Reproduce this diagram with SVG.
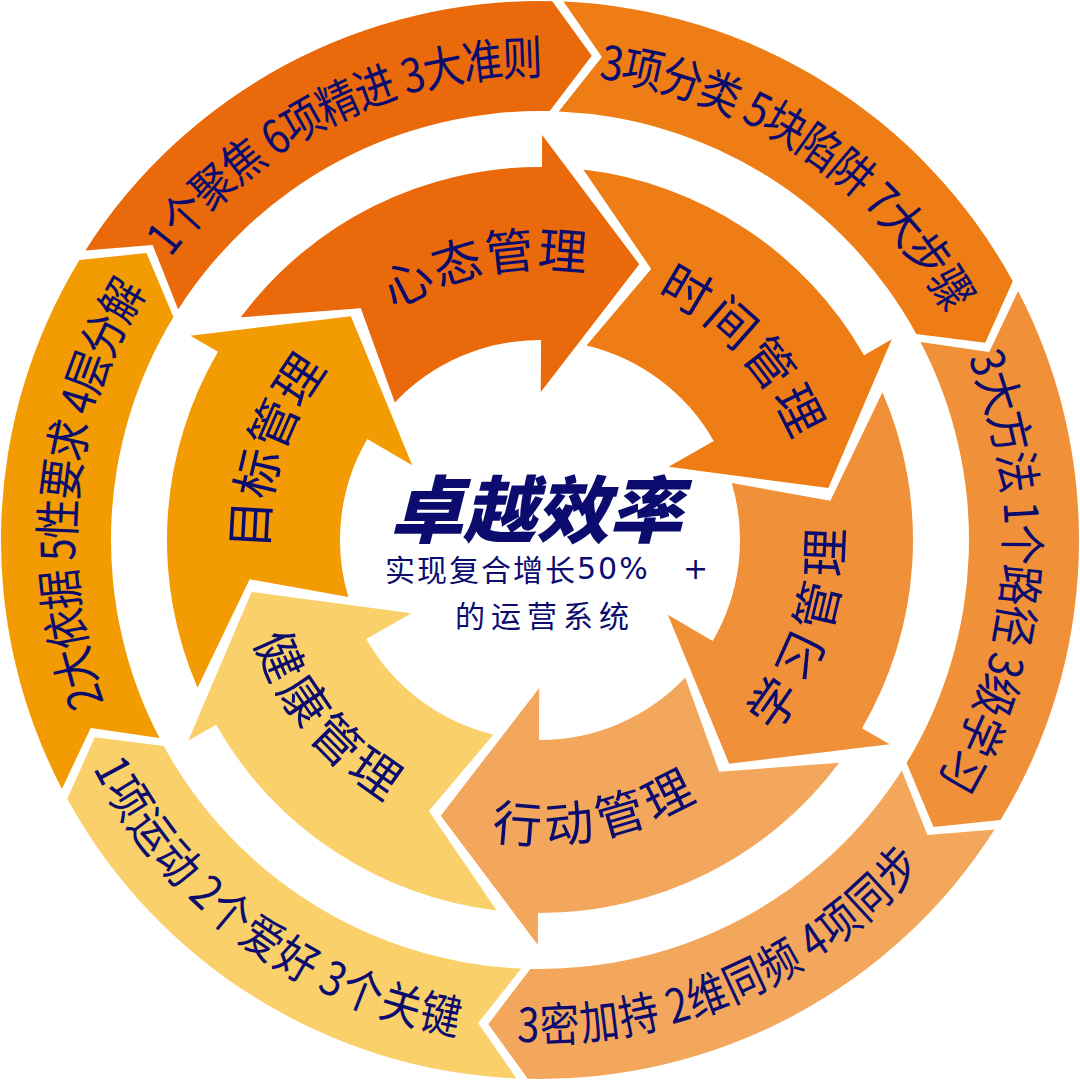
<svg xmlns="http://www.w3.org/2000/svg" xmlns:xlink="http://www.w3.org/1999/xlink" width="1080" height="1080" viewBox="0 0 1080 1080">
<style>
.lbl{font-family:"Noto Sans CJK SC","Noto Sans",sans-serif;fill:#0B0C6E;dominant-baseline:central}
.out{font-size:47px}
.inn{font-size:49px}
.c1{fill:#EA6A0B}.c2{fill:#EF7D16}.c3{fill:#F0913A}.c4{fill:#F3A75D}.c5{fill:#F9D06A}.c6{fill:#F29B02}
</style>
<defs>
<path id="seg" d="M551.29,1.12 A539,539 0 0 1 1006.79,270.5 L980.65,332.65 L911.53,325.5 A429,429 0 0 0 548.98,111.09 L590.91,55.67 Z"/>
<path id="arr" d="M581.32,169.29 A373,373 0 0 1 863.03,353.5 L890.74,337.5 L828.09,486.6 L668.17,466 L713.21,440 A200,200 0 0 0 585.5,345.24 L649.76,268.34 Z"/>
<path id="ocw" d="M227.6,167.7 A486,486 0 0 1 852.4,167.7"/>
<path id="occw" d="M230.8,908.5 A481,481 0 0 0 849.2,908.5"/>
<path id="icw" d="M332.1,332.1 A294,294 0 0 1 747.9,332.1"/>
<path id="iccw" d="M341.3,738.7 A281,281 0 0 0 738.7,738.7"/>
</defs>
<rect width="1080" height="1080" fill="#FFFFFF"/>
<g id="outer-ring">
<g id="seg-focus"><use href="#seg" class="c1" transform="rotate(301.3 540 540)"/>
<text class="lbl out" transform="rotate(-26.15 540 540)"><textPath href="#ocw" startOffset="50%" text-anchor="middle" textLength="448" lengthAdjust="spacingAndGlyphs">1个聚焦 6项精进 3大准则</textPath></text></g>
<g id="seg-classify"><use href="#seg" class="c2" transform="rotate(1.3 540 540)"/>
<text class="lbl out" transform="rotate(34.1 540 540)"><textPath href="#ocw" startOffset="50%" text-anchor="middle" textLength="455" lengthAdjust="spacingAndGlyphs">3项分类 5块陷阱 7大步骤</textPath></text></g>
<g id="seg-method"><use href="#seg" class="c3" transform="rotate(61.3 540 540)"/>
<text class="lbl out" transform="rotate(94.05 540 540)"><textPath href="#ocw" startOffset="50%" text-anchor="middle" textLength="458" lengthAdjust="spacingAndGlyphs">3大方法 1个路径 3级学习</textPath></text></g>
<g id="seg-sync"><use href="#seg" class="c4" transform="rotate(121.3 540 540)"/>
<text class="lbl out" transform="rotate(-23.55 540 540)"><textPath href="#occw" startOffset="50%" text-anchor="middle" textLength="440" lengthAdjust="spacingAndGlyphs">3密加持 2维同频 4项同步</textPath></text></g>
<g id="seg-sport"><use href="#seg" class="c5" transform="rotate(181.3 540 540)"/>
<text class="lbl out" transform="rotate(36.2 540 540)"><textPath href="#occw" startOffset="50%" text-anchor="middle" textLength="450" lengthAdjust="spacingAndGlyphs">1项运动 2个爱好 3个关键</textPath></text></g>
<g id="seg-basis"><use href="#seg" class="c6" transform="rotate(241.3 540 540)"/>
<text class="lbl out" transform="rotate(-84.05 540 540)"><textPath href="#ocw" startOffset="50%" text-anchor="middle" textLength="446" lengthAdjust="spacingAndGlyphs">2大依据 5性要求 4层分解</textPath></text></g>
</g>
<g id="inner-ring">
<g id="arrow-mind"><use href="#arr" class="c1" transform="rotate(300.3 540 540)"/>
<text class="lbl inn" transform="rotate(-11.35 540 540)"><textPath href="#icw" startOffset="50%" text-anchor="middle" textLength="212">心态管理</textPath></text></g>
<g id="arrow-time"><use href="#arr" class="c2" transform="rotate(0.3 540 540)"/>
<text class="lbl inn" transform="rotate(46.9 540 540)"><textPath href="#icw" startOffset="50%" text-anchor="middle" textLength="218">时间管理</textPath></text></g>
<g id="arrow-learn"><use href="#arr" class="c3" transform="rotate(60.3 540 540)"/>
<text class="lbl inn" transform="rotate(-71.25 540 540)"><textPath href="#iccw" startOffset="50%" text-anchor="middle" textLength="208">学习管理</textPath></text></g>
<g id="arrow-action"><use href="#arr" class="c4" transform="rotate(120.3 540 540)"/>
<text class="lbl inn" transform="rotate(-11.05 540 540)"><textPath href="#iccw" startOffset="50%" text-anchor="middle" textLength="202">行动管理</textPath></text></g>
<g id="arrow-health"><use href="#arr" class="c5" transform="rotate(180.3 540 540)"/>
<text class="lbl inn" transform="rotate(50.6 540 540)"><textPath href="#iccw" startOffset="50%" text-anchor="middle" textLength="200">健康管理</textPath></text></g>
<g id="arrow-goal"><use href="#arr" class="c6" transform="rotate(240.3 540 540)"/>
<text class="lbl inn" transform="rotate(-71.6 540 540)"><textPath href="#icw" startOffset="50%" text-anchor="middle" textLength="206">目标管理</textPath></text></g>
</g>
<g id="center">
<text class="lbl" x="536" y="505" font-size="73" font-weight="900" font-style="italic" text-anchor="middle" fill="#0A0A6B">卓越效率</text>
<text class="lbl" x="385" y="568" font-size="30" letter-spacing="2">实现复合增长<tspan font-family="DejaVu Sans" letter-spacing="2">50%</tspan><tspan x="683" font-family="DejaVu Sans">+</tspan></text>
<text class="lbl" x="455" y="614" font-size="30" letter-spacing="6">的运营系统</text>
</g>
</svg>
